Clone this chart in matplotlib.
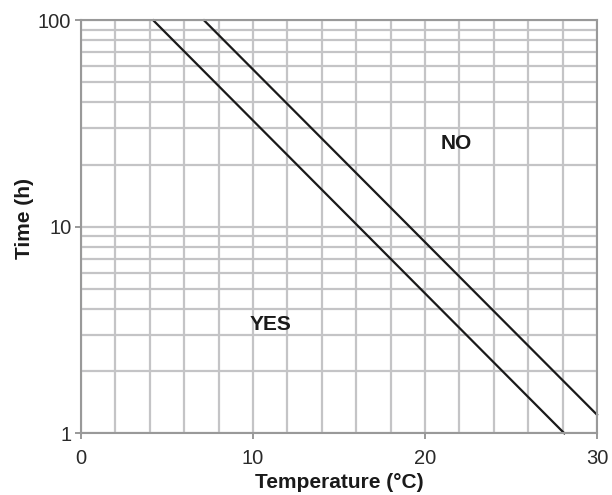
import matplotlib.pyplot as plt
from matplotlib.ticker import FixedLocator, NullFormatter, LogLocator

plt.rcParams["font.family"] = ["Liberation Sans", "DejaVu Sans"]

# lines: (temperature, time) end points
low_temp = [4.2, 28.1]
low_time = [100, 1]
high_temp = [7.15, 30]
high_time = [100, 1.23]

x_ticks = [0, 10, 20, 30]
y_ticks = [1, 10, 100]
y_tick_labels = ["1", "10", "100"]

fig = plt.figure(figsize=(6.12, 4.95), dpi=100)
ax = fig.add_axes([0.1324, 0.1246, 0.8431, 0.8344])

grid_col = "#c4c4c6"
ax.set_yscale("log")
ax.set_xlim(0, 30)
ax.set_ylim(1, 100)

ax.xaxis.set_major_locator(FixedLocator(x_ticks))
ax.xaxis.set_minor_locator(FixedLocator(range(0, 31, 2)))
ax.yaxis.set_major_locator(FixedLocator(y_ticks))
ax.yaxis.set_minor_locator(LogLocator(base=10, subs=range(2, 10)))
ax.yaxis.set_minor_formatter(NullFormatter())
ax.set_yticklabels(y_tick_labels)

ax.grid(which="both", color=grid_col, linewidth=1.6)
ax.set_axisbelow(True)
ax.tick_params(which="minor", length=0)
ax.tick_params(which="major", length=4, width=1.2, color="#888888",
               labelsize=14.5, labelcolor="#2a2a2a")
ax.tick_params(axis="x", which="major", pad=7)
ax.tick_params(axis="y", which="major", pad=3)

for s in ax.spines.values():
    s.set_color("#999999")
    s.set_linewidth(1.5)

ax.plot(low_temp, low_time, color="#1a1a1a", linewidth=1.6, clip_on=False)
ax.plot(high_temp, high_time, color="#1a1a1a", linewidth=1.6, clip_on=False)

ax.text(21.8, 25.2, "NO", ha="center", va="center", fontsize=15,
        fontweight="bold", color="#1a1a1a")
ax.text(11.0, 3.35, "YES", ha="center", va="center", fontsize=15,
        fontweight="bold", color="#1a1a1a")

ax.set_xlabel("Temperature (°C)", fontsize=15, fontweight="bold",
              color="#1a1a1a")
ax.set_ylabel("Time (h)", fontsize=15, fontweight="bold",
              color="#1a1a1a")
ax.xaxis.set_label_coords(0.5, -0.096)
ax.yaxis.set_label_coords(-0.092, 0.519)

fig.savefig("out.png", dpi=100)
